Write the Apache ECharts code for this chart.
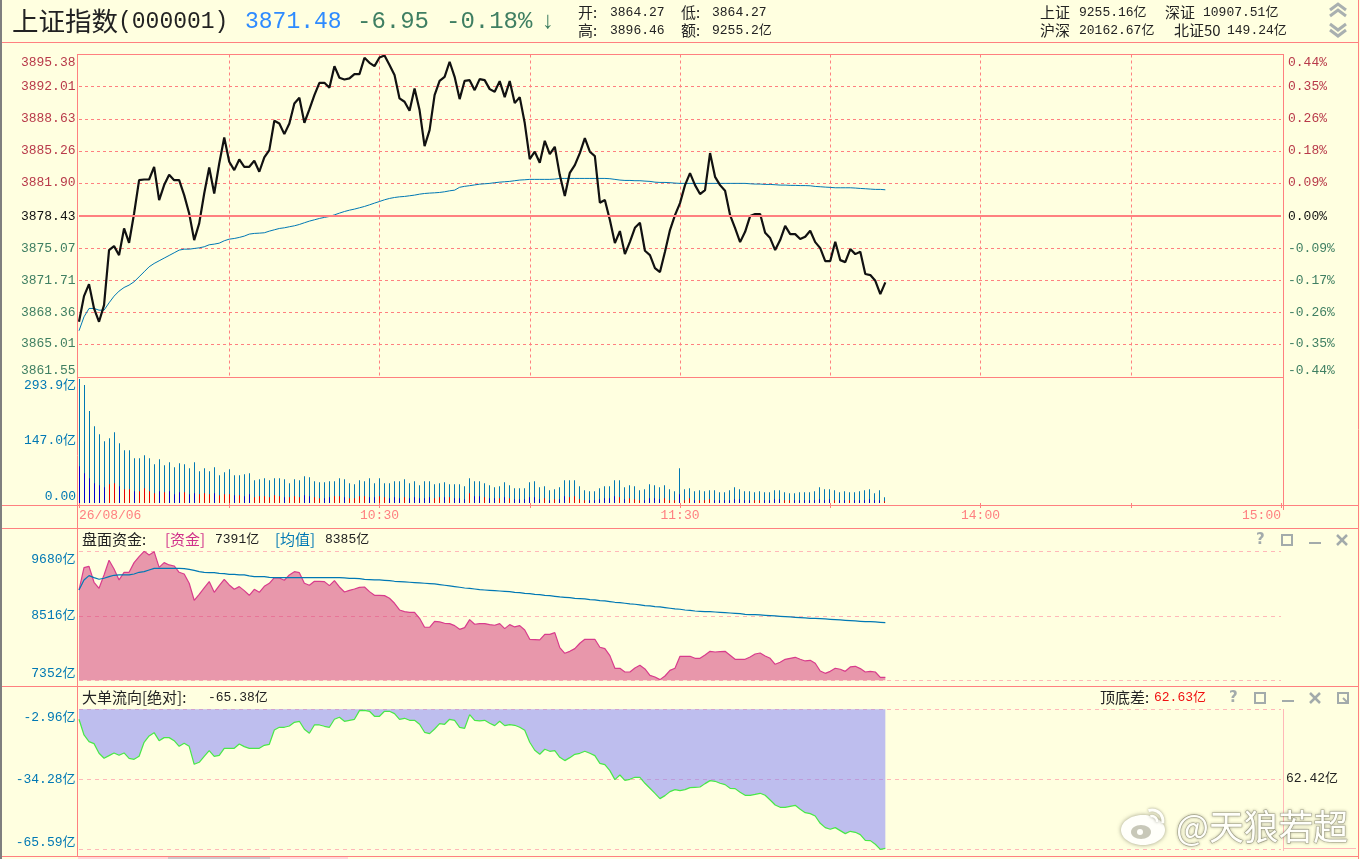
<!DOCTYPE html>
<html><head><meta charset="utf-8">
<style>html,body{margin:0;padding:0;background:#FFFFE0;overflow:hidden}#c{width:1360px;height:859px}</style>
<script src="https://cdn.jsdelivr.net/npm/echarts@6/dist/echarts.min.js"></script>
</head><body><div id="c"></div>
<script>
const prevClose = 3878.43;
const priceTicks = [3861.55,3865.01,3868.36,3871.71,3875.07,3878.43,3881.90,3885.26,3888.63,3892.01,3895.38];
const volTicks = [0,147.0,293.9];
const capTicks = [7352,8516,9680];
const flowTicks = [-65.59,-34.28,-2.96];
const price = [
3867.34,3870.03,3871.29,3868.74,3867.34,3869.09,3874.86,3875.28,3874.33,3877.13,
3875.63,3878.70,3882.20,3882.27,3882.27,3883.60,3880.10,3881.68,3882.76,3882.20,
3882.20,3880.63,3878.70,3875.91,3877.66,3880.80,3883.53,3880.80,3883.95,3886.68,
3884.13,3883.25,3884.37,3883.60,3883.60,3884.23,3883.08,3884.58,3885.35,3888.43,
3888.15,3887.03,3888.15,3890.24,3890.84,3888.22,3889.62,3891.12,3892.41,3892.41,
3891.89,3894.16,3892.94,3892.76,3892.87,3893.32,3893.32,3895.04,3894.51,3894.16,
3895.07,3895.28,3894.27,3893.22,3890.77,3890.42,3889.48,3891.82,3889.55,3885.77,
3887.45,3891.12,3892.62,3893.04,3894.62,3893.04,3890.70,3892.62,3892.69,3891.64,
3892.80,3892.69,3891.75,3891.47,3892.59,3890.91,3892.59,3890.28,3890.91,3888.19,
3884.41,3885.18,3884.02,3886.33,3884.93,3885.70,3882.73,3880.53,3882.97,3883.78,
3885.04,3886.61,3885.18,3884.72,3879.83,3880.11,3878.01,3875.60,3876.86,3874.44,
3875.73,3877.20,3877.73,3874.79,3874.34,3872.98,3872.56,3874.69,3876.96,3878.53,
3879.79,3881.68,3882.94,3881.68,3880.74,3881.16,3885.04,3882.55,3881.68,3881.08,
3878.53,3877.17,3875.70,3876.78,3878.43,3878.64,3878.64,3876.68,3876.12,3874.86,
3875.91,3877.41,3876.54,3876.54,3876.02,3876.26,3876.89,3875.70,3875.07,3873.71,
3873.71,3875.73,3873.81,3873.60,3874.97,3874.44,3874.69,3872.35,3872.24,3871.64,
3870.25,3871.48];
const avgPrice = [
3866.40,3867.86,3868.74,3868.74,3868.56,3868.56,3869.33,3870.03,3870.56,3870.94,
3871.19,3871.54,3872.06,3872.58,3873.11,3873.46,3873.74,3874.02,3874.30,3874.58,
3874.86,3874.96,3874.96,3875.03,3875.10,3875.21,3875.42,3875.49,3875.59,3875.84,
3876.01,3876.08,3876.19,3876.33,3876.54,3876.61,3876.64,3876.68,3876.85,3876.99,
3877.13,3877.20,3877.31,3877.41,3877.55,3877.73,3877.90,3878.04,3878.18,3878.29,
3878.39,3878.56,3878.74,3878.91,3879.05,3879.16,3879.30,3879.44,3879.61,3879.79,
3879.96,3880.14,3880.28,3880.38,3880.45,3880.49,3880.56,3880.63,3880.73,3880.80,
3880.84,3880.87,3880.91,3880.98,3881.08,3881.15,3881.45,3881.55,3881.62,3881.70,
3881.78,3881.82,3881.86,3881.93,3881.99,3882.03,3882.07,3882.14,3882.21,3882.24,
3882.28,3882.28,3882.28,3882.28,3882.28,3882.31,3882.38,3882.38,3882.38,3882.38,
3882.38,3882.38,3882.38,3882.38,3882.38,3882.38,3882.35,3882.28,3882.21,3882.17,
3882.17,3882.14,3882.14,3882.10,3882.07,3881.99,3881.96,3881.96,3881.93,3881.89,
3881.86,3881.86,3881.86,3881.86,3881.86,3881.86,3881.86,3881.86,3881.86,3881.86,
3881.86,3881.86,3881.86,3881.86,3881.82,3881.79,3881.79,3881.75,3881.75,3881.72,
3881.68,3881.68,3881.65,3881.65,3881.63,3881.63,3881.61,3881.54,3881.51,3881.47,
3881.44,3881.40,3881.40,3881.40,3881.40,3881.37,3881.33,3881.30,3881.26,3881.23,
3881.23,3881.19];
const volume = [
293.9,279.7,218.0,181.7,162.7,146.2,153.3,167.5,141.4,124.8,
124.8,105.9,105.9,113.0,105.9,91.6,103.5,89.3,96.4,84.5,
94.0,91.6,82.2,96.4,75.1,82.2,75.1,84.5,65.6,72.7,
79.8,65.6,65.6,67.9,70.3,53.7,56.1,58.5,53.7,58.5,
58.5,56.1,46.6,56.1,53.7,63.2,60.8,51.4,49.0,49.0,
51.4,51.4,58.5,56.1,46.6,44.2,53.7,51.4,58.5,46.6,
58.5,46.6,46.6,51.4,51.4,56.1,46.6,51.4,41.9,51.4,
51.4,44.2,46.6,49.0,44.2,44.2,44.2,39.5,58.5,51.4,
51.4,46.6,41.9,37.1,39.5,49.0,41.9,34.8,34.8,34.8,
49.0,51.4,37.1,39.5,30.0,32.4,37.1,53.7,53.7,53.7,
39.5,30.0,27.7,27.7,34.8,39.5,39.5,53.7,53.7,37.1,
41.9,39.5,30.0,32.4,44.2,41.9,37.1,41.9,32.4,27.7,
82.2,32.4,34.8,27.7,30.0,27.7,30.0,30.0,25.3,25.3,
30.0,37.1,32.4,27.7,27.7,25.3,27.7,25.3,25.3,30.0,
30.0,25.3,22.9,22.9,25.3,25.3,25.3,27.7,37.1,32.4,
32.4,30.0,25.3,27.7,25.3,25.3,27.7,30.0,32.4,22.9,
30.0,13.4];
/* positive is drawn red, negative blue */
const volDelta = [
-86.9,-70.3,-58.5,-46.6,-41.9,-37.1,44.2,46.6,-39.5,32.4,
32.4,-27.7,27.7,34.8,27.7,22.9,-27.7,25.3,-27.7,-20.5,
-25.3,25.3,-20.5,-22.9,20.5,22.9,20.5,-22.9,18.2,20.5,
20.5,-18.2,18.2,-15.8,-20.5,13.4,15.8,15.8,13.4,18.2,
15.8,-13.4,13.4,15.8,13.4,-18.2,-15.8,13.4,11.1,-11.1,
-13.4,15.8,15.8,-13.4,11.1,11.1,15.8,15.8,-13.4,-13.4,
15.8,13.4,-11.1,-13.4,-11.1,13.4,-11.1,-13.4,-11.1,-11.1,
-13.4,11.1,13.4,-13.4,13.4,-11.1,-11.1,-8.7,22.9,-15.8,
-15.8,13.4,-11.1,-11.1,11.1,-13.4,11.1,-8.7,-8.7,-8.7,
-13.4,-13.4,-8.7,11.1,-6.3,8.7,-8.7,-15.8,13.4,15.8,
8.7,6.3,-6.3,-6.3,-8.7,-11.1,-11.1,-15.8,13.4,-8.7,
11.1,8.7,6.3,-6.3,-11.1,-11.1,-8.7,11.1,6.3,6.3,
-20.5,6.3,11.1,-6.3,6.3,6.3,8.7,-6.3,-6.3,-6.3,
-6.3,-8.7,-8.7,-6.3,-6.3,6.3,6.3,-6.3,-6.3,-8.7,
-8.7,6.3,6.3,-6.3,-6.3,-6.3,-6.3,-6.3,-8.7,-6.3,
-8.7,6.3,-6.3,-6.3,6.3,-6.3,-6.3,-6.3,-8.7,-6.3,
-6.3,4.0];
const capital = [
8982,9385,9409,9121,9012,9253,9518,9361,9163,9301,
9301,9476,9584,9680,9614,9674,9391,9476,9434,9415,
9301,9271,9103,8796,8904,9018,9133,8940,9061,9175,
9073,8994,9042,8970,8886,8994,8940,9049,9103,9205,
9199,9157,9253,9313,9295,9103,9067,9139,9139,9133,
9061,9151,9036,8946,8976,9000,9030,9036,8952,8886,
8886,8880,8832,8742,8621,8591,8579,8579,8471,8309,
8309,8417,8405,8381,8375,8339,8272,8303,8447,8363,
8375,8375,8357,8345,8375,8284,8357,8315,8339,8260,
8092,8086,8080,8182,8182,8212,7942,7839,7875,7924,
8020,8092,8092,8092,7948,7924,7797,7569,7569,7502,
7502,7575,7623,7557,7442,7412,7364,7430,7532,7569,
7785,7785,7785,7749,7749,7809,7875,7863,7869,7875,
7803,7731,7731,7731,7773,7827,7845,7791,7749,7641,
7677,7731,7749,7767,7731,7701,7713,7659,7520,7478,
7514,7569,7551,7514,7593,7605,7563,7502,7514,7502,
7406,7406];
const capitalAvg = [
8982,9163,9241,9205,9175,9193,9223,9247,9253,9253,
9253,9271,9301,9313,9343,9373,9373,9373,9373,9373,
9373,9367,9355,9337,9313,9301,9295,9295,9283,9277,
9265,9265,9253,9253,9235,9223,9223,9223,9211,9205,
9205,9205,9205,9205,9205,9205,9205,9205,9205,9205,
9205,9205,9205,9199,9193,9193,9187,9175,9169,9163,
9163,9157,9151,9139,9133,9127,9121,9115,9109,9103,
9097,9091,9079,9067,9055,9043,9031,9018,9012,9000,
8988,8982,8976,8970,8964,8958,8952,8940,8934,8922,
8916,8904,8898,8886,8880,8868,8856,8850,8844,8832,
8826,8820,8808,8802,8790,8784,8772,8760,8754,8742,
8730,8724,8712,8700,8694,8682,8676,8664,8652,8640,
8634,8621,8615,8603,8597,8591,8591,8585,8579,8573,
8567,8561,8555,8543,8537,8537,8531,8525,8519,8513,
8507,8501,8495,8489,8483,8477,8471,8471,8465,8459,
8453,8447,8441,8435,8429,8423,8417,8411,8411,8405,
8399,8393];
const bigFlow = [
-7.43,-14.44,-17.42,-18.32,-22.64,-24.88,-23.69,-22.49,-23.54,-22.49,
-24.88,-25.33,-23.99,-17.72,-14.89,-13.40,-16.98,-15.63,-15.63,-16.98,
-19.51,-18.17,-19.51,-27.56,-26.67,-23.99,-21.45,-23.99,-23.54,-20.41,
-20.41,-20.41,-18.47,-19.66,-20.41,-20.41,-20.41,-19.07,-18.62,-12.21,
-11.01,-11.01,-10.42,-8.78,-8.33,-11.91,-13.70,-9.97,-9.97,-10.56,
-11.01,-7.43,-6.54,-8.33,-7.88,-7.43,-3.56,-3.41,-3.85,-6.09,
-6.09,-3.85,-3.85,-4.90,-7.43,-6.99,-7.88,-7.88,-9.67,-13.25,
-13.85,-11.76,-9.37,-9.67,-7.43,-7.88,-11.01,-11.46,-5.35,-7.88,
-8.18,-7.88,-9.22,-10.27,-8.33,-10.27,-9.82,-10.12,-11.01,-12.35,
-17.72,-21.30,-23.09,-20.85,-21.75,-21.45,-24.43,-25.92,-24.58,-23.09,
-22.64,-21.75,-22.64,-23.69,-27.12,-27.71,-30.40,-34.43,-32.34,-34.72,
-34.27,-33.38,-33.38,-36.06,-38.30,-40.54,-42.92,-41.58,-39.79,-38.90,
-39.35,-38.90,-38.00,-37.85,-37.71,-36.21,-34.87,-35.17,-36.06,-36.66,
-38.30,-38.45,-40.09,-41.43,-41.43,-40.99,-40.54,-41.43,-43.52,-45.76,
-46.80,-46.80,-46.35,-45.91,-47.70,-49.19,-49.63,-50.68,-53.96,-55.90,
-56.64,-55.90,-57.24,-58.58,-57.54,-57.99,-59.03,-61.56,-61.71,-63.35,
-65.59,-65.14];

const minutes = [];
for (let i=0;i<=240;i++){
  let m = i<=120 ? 570+i : 780+(i-120);
  minutes.push(Math.floor(m/60)+':'+String(m%60).padStart(2,'0'));
}
minutes[0]='26/08/06';

const PINK='#FF8080', PALE='#FFB8B8', BG='#FFFFE0', TEAL='#0078B4', DRED='#B83A4A', DGREEN='#3F7F62';
const MONO='"Liberation Mono","Noto Sans CJK SC",monospace';
const CJK='"Noto Sans CJK SC",sans-serif';
const L=79, W=1202;

function line(x1,y1,x2,y2,c,w){return {type:'line',silent:true,z:5,shape:{x1,y1,x2,y2},style:{stroke:c||PINK,lineWidth:w||1}};}
function rect(x,y,w,h,c,z){return {type:'rect',silent:true,z:z||5,shape:{x,y,width:w,height:h},style:{fill:c}};}
const F14='15px '+CJK, F13='13px '+MONO;
function txt(x,y,s,c,font){
  const f=font||F13;
  const dy=f.indexOf('Mono')>=0?1:0;
  return {type:'text',silent:true,z:6,x,y:y+dy,style:{text:s,fill:c||'#111',font:f,textVerticalAlign:'middle',verticalAlign:'middle',textAlign:'left',align:'left'}};
}

function gIcons(y,xs){
  const G='#A3ABAB', out=[];
  out.push(txt(xs[0]-4,y,'?',G,'bold 15px "DejaVu Sans"'));
  out.push({type:'rect',silent:true,z:6,shape:{x:xs[1]-5,y:y-5,width:10,height:10},style:{fill:'none',stroke:G,lineWidth:2}});
  out.push(rect(xs[2]-6,y+2,12,2,G,6));
  out.push(line(xs[3]-5,y-5,xs[3]+5,y+5,G,2.5));
  out.push(line(xs[3]+5,y-5,xs[3]-5,y+5,G,2.5));
  return out;
}
function chevron(cx,cy,up){
  const d=up?-1:1, G='#A9B0B0';
  return [0,6].map(o=>({type:'polyline',silent:true,z:6,shape:{points:[[cx-8,cy+o-d*3],[cx,cy+o+d*3],[cx+8,cy+o-d*3]]},style:{stroke:G,lineWidth:3,fill:'none'}}));
}

const graphics = [
  rect(0,0,2,859,'#7F7F7F'),
  line(2,42.5,1358,42.5),
  line(1358.5,0,1358.5,859),
  line(77.5,54.5,1283.5,54.5),
  line(77.5,54,77.5,857),
  line(1283.5,54,1283.5,510),
  line(77.5,377.5,1283.5,377.5),
  line(2,505.5,1358,505.5),
  line(2,528.5,1358,528.5),
  line(2,686.5,1358,686.5),
  line(2,856.5,1358,856.5),
  line(1283.5,709,1283.5,851,PALE),
  line(1283.5,848.5,1356,848.5,PALE),
  rect(78,857,90,2,'#FFD8D8'),rect(168,857,102,2,'#D0C8C8'),rect(270,857,78,2,'#FFD8D8'),
  txt(12,21,'上证指数','#222','26.5px '+CJK),
  txt(118,21,'(000001)','#222','23px '+MONO),
  txt(245,21,'3871.48','#2E8BFF','23px '+MONO),
  txt(357,21,'-6.95',DGREEN,'24px '+MONO),
  txt(446,21,'-0.18%',DGREEN,'24px '+MONO),
  txt(542,21,'↓',DGREEN,'24px "Liberation Sans"'),
  txt(578,12,'开:','#222',F14),txt(610,12,'3864.27','#222'),
  txt(681,12,'低:','#222',F14),txt(712,12,'3864.27','#222'),
  txt(578,30,'高:','#222',F14),txt(610,30,'3896.46','#222'),
  txt(681,30,'额:','#222',F14),txt(712,30,'9255.2亿','#222'),
  txt(1040,12,'上证','#222',F14),txt(1079,12,'9255.16亿','#222'),
  txt(1165,12,'深证','#222',F14),txt(1203,12,'10907.51亿','#222'),
  txt(1040,30,'沪深','#222',F14),txt(1079,30,'20162.67亿','#222'),
  txt(1174,30,'北证50','#222',F14),txt(1227,30,'149.24亿','#222'),
  ...chevron(1338,7,true),...chevron(1338,27,false),
  txt(82,539,'盘面资金:','#222',F14),
  txt(165,539,'[资金]','#D0308A',F14),
  txt(215,539,'7391亿','#222'),
  txt(275,539,'[均值]',TEAL,F14),
  txt(325,539,'8385亿','#222'),
  ...gIcons(540,[1260,1287,1315,1342]),
  txt(82,697,'大单流向','#222',F14),
  txt(142,697,'[绝对]:','#222',F14),
  txt(208,697,'-65.38亿','#222'),
  txt(1100,697,'顶底差:','#222',F14),
  txt(1154,697,'62.63亿','#F01010'),
  ...gIcons(698,[1233,1260,1288,1315]),
  {type:'rect',silent:true,z:6,shape:{x:1338,y:693,width:10,height:10},style:{fill:'none',stroke:'#A3ABAB',lineWidth:2}},
  line(1343,698,1348,703,'#A3ABAB',2),
  txt(1286,778,'62.42亿','#222'),
  {type:'ellipse',silent:true,z:8,shape:{cx:1143,cy:830,rx:22,ry:15},style:{fill:'#FFFFFA',shadowBlur:4,shadowColor:'rgba(90,90,70,.6)'}},
  {type:'ellipse',silent:true,z:9,shape:{cx:1141,cy:832,rx:10,ry:7},style:{fill:'#C8C8B8'}},
  {type:'circle',silent:true,z:9,shape:{cx:1140,cy:832,r:3},style:{fill:'#FFFFFA'}},
  {type:'arc',silent:true,z:8,shape:{cx:1152,cy:821,r:11,startAngle:-1.9,endAngle:0.2},style:{stroke:'#FFFFFA',lineWidth:3,fill:'none',shadowBlur:3,shadowColor:'rgba(90,90,70,.6)'}},
  {type:'arc',silent:true,z:8,shape:{cx:1152,cy:821,r:5,startAngle:-1.9,endAngle:0.2},style:{stroke:'#FFFFFA',lineWidth:2.5,fill:'none',shadowBlur:3,shadowColor:'rgba(90,90,70,.6)'}},
  {type:'text',silent:true,z:8,x:1176,y:827,style:{text:'@天狼若超',fill:'#FFFFFA',font:'34.8px '+CJK,verticalAlign:'middle',textVerticalAlign:'middle',stroke:'rgba(130,130,110,.55)',lineWidth:1.2,shadowBlur:3,shadowColor:'rgba(90,90,70,.5)',textShadowBlur:3,textShadowColor:'rgba(90,90,70,.5)'}}
];

const dashS={color:PINK,type:[3,3],width:1}, dashP={color:PALE,type:[4,4],width:1};
const every30=(i)=>i%30===0;
function xA(idx,o){
  return Object.assign({type:'category',gridIndex:idx,data:minutes,boundaryGap:false,
    axisLine:{show:false},axisTick:{show:false},axisLabel:{show:false},splitLine:{show:false}},o||{});
}
function yA(idx,ticks,mn,mx,fmt,col,o){
  return Object.assign({type:'value',gridIndex:idx,min:mn,max:mx,scale:true,
    axisLine:{show:false},
    axisTick:{show:false,customValues:ticks},
    axisLabel:{customValues:ticks,formatter:fmt,color:col,margin:3.5,fontFamily:MONO,fontSize:13,padding:[2,0,0,0],
      showMinLabel:true,showMaxLabel:true,verticalAlignMinLabel:'bottom',verticalAlignMaxLabel:'top'},
    splitLine:{show:true,lineStyle:dashP}},o||{});
}
function priceColor(v){return v>prevClose+0.001?DRED:(v<prevClose-0.001?DGREEN:'#111');}
const pctMin=(priceTicks[0]-prevClose)/prevClose*100, pctMax=(priceTicks[10]-prevClose)/prevClose*100;
const pctTicks=priceTicks.map(p=>(p-prevClose)/prevClose*100);

const option={
  animation:false,backgroundColor:BG,
  grid:[
    {left:L,width:W,top:54.5,height:322.5},
    {left:79.5,width:1200,top:379,height:124},
    {left:L,width:W,top:551.3,height:129},
    {left:L,width:W,top:709.3,height:140},
    {left:L,width:W,top:379,height:124}
  ],
  xAxis:[
    xA(0,{splitLine:{show:true,interval:(i)=>every30(i)&&i>0&&i<240,lineStyle:dashS}}),
    xA(1),
    xA(2),xA(3),
    xA(4,{axisTick:{show:true,interval:(i)=>every30(i),length:5,lineStyle:{color:PINK}},
      axisLabel:{show:true,interval:(i)=>i%60===0,color:PINK,fontFamily:MONO,fontSize:13,margin:6,alignMinLabel:'left',alignMaxLabel:'right',showMinLabel:true,showMaxLabel:true}})
  ],
  yAxis:[
    yA(0,priceTicks,priceTicks[0],priceTicks[10],v=>v.toFixed(2),priceColor,{splitLine:{show:true,lineStyle:dashS}}),
    {type:'value',gridIndex:0,position:'right',min:pctMin,max:pctMax,scale:true,axisLine:{show:false},
      axisTick:{show:false,customValues:pctTicks},splitLine:{show:false},
      axisLabel:{customValues:pctTicks,margin:7,fontFamily:MONO,fontSize:13,padding:[2,0,0,0],
        formatter:v=>v.toFixed(2)+'%',
        color:v=>Math.abs(v)<1e-6?'#111':(v>0?DRED:DGREEN),
        showMinLabel:true,showMaxLabel:true,verticalAlignMinLabel:'bottom',verticalAlignMaxLabel:'top'}},
    yA(1,volTicks,0,293.9,v=>v===0?'0.00':v.toFixed(1)+'亿',TEAL,{splitLine:{show:false},axisLabel:{customValues:volTicks,formatter:v=>v===0?'0.00':v.toFixed(1)+'亿',color:TEAL,margin:3.5,fontFamily:MONO,fontSize:13,showMinLabel:true,showMaxLabel:true,verticalAlignMinLabel:'bottom',verticalAlignMaxLabel:'top'}}),
    yA(2,capTicks,capTicks[0],capTicks[2],v=>v+'亿',TEAL),
    yA(3,flowTicks,flowTicks[0],flowTicks[2],v=>v.toFixed(2)+'亿',TEAL),
    {type:'value',gridIndex:4,show:false,min:0,max:1}
  ],
  series:[
    {type:'line',xAxisIndex:0,yAxisIndex:0,data:avgPrice,showSymbol:false,silent:true,lineStyle:{color:TEAL,width:1}},
    {type:'line',xAxisIndex:0,yAxisIndex:0,data:price,showSymbol:false,silent:true,lineStyle:{color:'#111',width:2.2},
      markLine:{silent:true,symbol:'none',label:{show:false},lineStyle:{color:PINK,type:'solid',width:2},data:[{yAxis:prevClose}]}},
    {type:'bar',xAxisIndex:1,yAxisIndex:2,data:volume,barWidth:1,barGap:'-100%',silent:true,itemStyle:{color:TEAL}},
    {type:'bar',xAxisIndex:1,yAxisIndex:2,data:volDelta.map(Math.abs),barWidth:1,barGap:'-100%',silent:true,
      itemStyle:{color:p=>volDelta[p.dataIndex]>0?'#E80000':'#0000D0'}},
    {type:'line',xAxisIndex:2,yAxisIndex:3,data:capital,showSymbol:false,silent:true,
      lineStyle:{color:'#D83C8C',width:1.2},areaStyle:{color:'#D12F75',opacity:0.5,origin:'start'}},
    {type:'line',xAxisIndex:2,yAxisIndex:3,data:capitalAvg,showSymbol:false,silent:true,lineStyle:{color:TEAL,width:1.2}},
    {type:'line',xAxisIndex:3,yAxisIndex:4,data:bigFlow,showSymbol:false,silent:true,
      lineStyle:{color:'#48E848',width:1.2},areaStyle:{color:'#7D7DFC',opacity:0.5,origin:'end'}}
  ],
  graphic:{elements:graphics}
};
echarts.init(document.getElementById('c')).setOption(option);
</script></body></html>
